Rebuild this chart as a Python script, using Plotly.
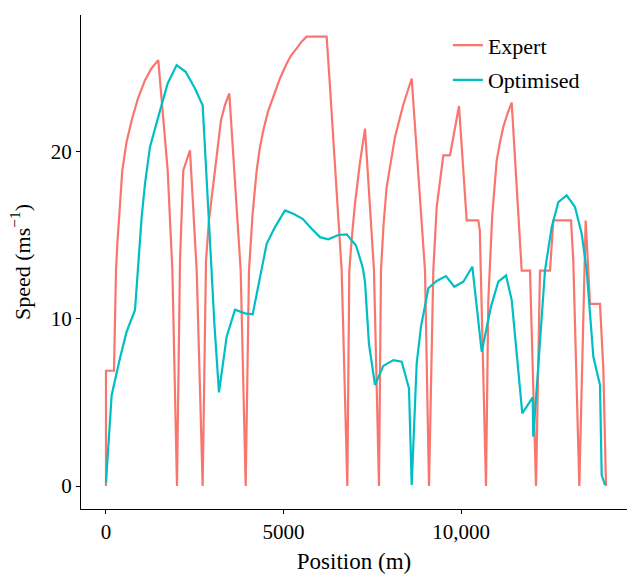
import plotly.graph_objects as go

expert_x = [0, 0, 225, 240, 260, 282, 320, 366, 410, 459, 580, 724, 900, 1099, 1280, 1473,
            1738, 1870, 2000,
            2085, 2177, 2366, 2555, 2723,
            2817, 2900, 3070, 3150, 3239, 3350, 3474, 3794, 3935,
            4028, 4130, 4245, 4330, 4432, 4560, 4713, 4900, 5090, 5220, 5372, 5510, 5653,
            6216, 6310, 6451, 6639, 6798,
            6854, 6930, 7014, 7150, 7296, 7549, 7690,
            7746, 7820, 7906, 8020, 8141, 8370, 8611, 8986, 9099,
            9220, 9315, 9502, 9690, 9944, 10160, 10488, 10530, 10704,
            10769, 10880, 11006, 11100, 11192, 11310, 11428, 11710, 11944, 12113,
            12225, 12507, 12601, 13099, 13163, 13333,
            13512, 13634, 13915, 14009, 14085]
expert_v = [0, 6.9, 6.9, 9.0, 11.2, 12.9, 14.5, 15.9, 17.4, 18.9, 20.6, 21.9, 23.2, 24.3, 25.0, 25.5,
            18.9, 12.9, 0,
            13.5, 18.9, 20.1, 12.9, 0,
            13.5, 15.9, 18.9, 20.5, 21.9, 22.8, 23.5, 12.9, 0,
            12.9, 16.3, 18.9, 20.2, 21.3, 22.4, 23.3, 24.4, 25.3, 25.8, 26.2, 26.6, 26.9,
            26.9, 23.9, 18.9, 12.9, 0,
            12.9, 15.0, 16.9, 19.3, 21.4, 12.9, 0,
            12.9, 15.7, 17.9, 19.5, 20.9, 22.8, 24.4, 12.9, 0,
            12.9, 16.7, 19.8, 19.8, 22.75, 15.9, 15.9, 15.3, 0,
            11.1, 16.2, 19.5, 20.6, 21.5, 22.3, 22.95, 12.9, 12.9, 0,
            12.9, 12.9, 15.9, 15.9, 13.5, 0,
            15.9, 10.9, 10.9, 7.05, 0]

optim_x = [0, 160, 394, 582, 817, 892, 1005, 1099, 1239, 1473, 1737, 1990, 2244,
           2507, 2723, 2974, 3052, 3183, 3399, 3634, 3915, 4132, 4385, 4526, 4761,
           5042, 5277, 5540, 5794, 6028, 6263, 6544, 6780, 7042, 7202, 7248, 7296,
           7408, 7577, 7812, 8093, 8329, 8535, 8611, 8752, 8873, 9080, 9315, 9577,
           9811, 10065, 10319, 10583, 10845, 11051, 11268, 11428, 11727, 12019,
           12037, 12366, 12554, 12741, 12977, 13211, 13400, 13541, 13728, 13915,
           13963, 14056]
optim_v = [0.2, 5.45, 7.65, 9.24, 10.54, 12.9, 16.1, 18.1, 20.3, 22.1, 24.1, 25.2, 24.8,
           23.8, 22.8, 12.9, 9.74, 5.6, 8.94, 10.55, 10.34, 10.28, 12.9, 14.5, 15.5,
           16.5, 16.3, 16.0, 15.4, 14.9, 14.77, 15.03, 15.07, 14.4, 13.3, 12.9, 12.2,
           8.5, 6.05, 7.19, 7.54, 7.44, 5.85, 0.06, 7.35, 9.54, 11.84, 12.28, 12.57,
           11.93, 12.23, 13.13, 8.04, 10.74, 12.23, 12.6, 11.14, 4.35, 5.31,
           2.95, 12.9, 15.5, 17.0, 17.4, 16.7, 15.1, 12.9, 7.74, 6.05,
           0.66, 0.06]

x_ticks = [0, 5000, 10000]
x_tick_labels = ["0", "5000", "10,000"]
y_ticks = [0, 10, 20]
y_tick_labels = ["0", "10", "20"]

FONT = "Liberation Serif, Times New Roman, Times, serif"

fig = go.Figure()
fig.add_trace(go.Scatter(x=expert_x, y=expert_v, mode="lines", name="Expert",
                         legendgroup="a",
                         line=dict(color="#F8766D", width=2.2)))
fig.add_trace(go.Scatter(x=optim_x, y=optim_v, mode="lines", name="Optimised",
                         legendgroup="b",
                         line=dict(color="#00BFC4", width=2.2)))

fig.update_layout(
    width=629, height=574,
    margin=dict(l=81, r=2, t=15, b=65),
    paper_bgcolor="white", plot_bgcolor="white",
    font=dict(family=FONT, size=21, color="black"),
    showlegend=True,
    legend=dict(x=0.672, y=0.981, xanchor="left", yanchor="top",
                bgcolor="rgba(0,0,0,0)", font=dict(family=FONT, size=22),
                itemwidth=30, tracegroupgap=3, traceorder="grouped"),
    xaxis=dict(range=[-704, 14676], showline=True, linecolor="black", linewidth=1.2,
               ticks="outside", ticklen=4, tickcolor="black", tickwidth=1,
               tickvals=x_ticks, ticktext=x_tick_labels, showgrid=False, zeroline=False,
               tickfont=dict(family=FONT, size=21, color="black"),
               title=dict(text="Position (m)", font=dict(family=FONT, size=23), standoff=12)),
    yaxis=dict(range=[-1.377, 28.2], showline=True, linecolor="black", linewidth=1.2,
               ticks="outside", ticklen=4, tickcolor="black", tickwidth=1,
               tickvals=y_ticks, ticktext=y_tick_labels, showgrid=False, zeroline=False,
               tickfont=dict(family=FONT, size=21, color="black"),
               title=dict(text="Speed (ms<sup>−1</sup>)", font=dict(family=FONT, size=22), standoff=14)),
)

fig.write_html("out.html")
